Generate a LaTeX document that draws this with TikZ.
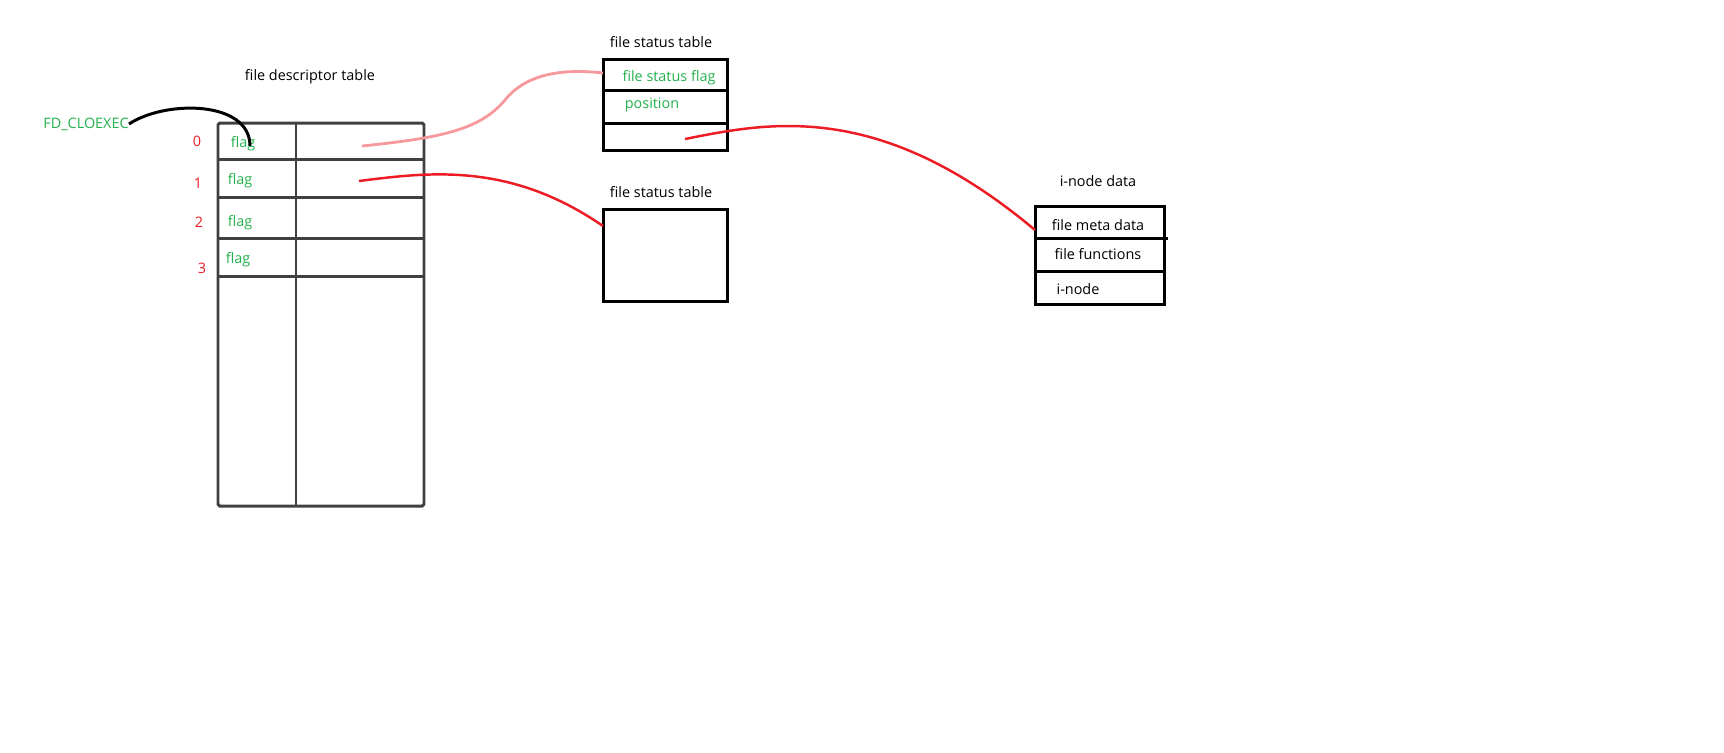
\documentclass[tikz,border=0pt]{standalone}
\usepackage{fontspec}
\setmainfont{Open Sans}
\definecolor{paintgreen}{RGB}{34,177,76}
\definecolor{paintred}{RGB}{237,28,36}
\begin{document}
\begin{tikzpicture}[x=0.02cm,y=-0.02cm,
  lbl/.style={font=\fontsize{8.2}{10}\selectfont, inner sep=0pt},
  grn/.style={lbl, text=paintgreen},
  idx/.style={lbl, text=paintred},
  sketch/.style={draw=black!75, line width=1.7pt},
  box/.style={draw=black, line width=1.7pt},
  link/.style={draw=paintred, line width=1.4pt}]
\useasboundingbox (0,0) rectangle (1724,752);
% file descriptor table
\node[lbl] (fdtitle) at (310,77) {file descriptor table};
\draw[sketch, rounded corners=1pt] (218,123) rectangle (424,506);
\draw[sketch] (296,123) -- (296,506);
\foreach \y in {159,197,238,276} \draw[sketch] (218,\y) -- (424,\y);
\foreach \i/\nx/\ny/\fx/\fy in {0/197/141/243/144, 1/198/183/240/181, 2/199/222/240/223, 3/202/268/238/260}{
  \node[idx] (idx\i) at (\nx,\ny) {\i};
  \node[grn] (flag\i) at (\fx,\fy) {flag};
}
\node[grn] (cloexec) at (86,124) {FD\_CLOEXEC};
\coordinate (flagtip) at (250,146);
\draw[black, line width=1.7pt] (cloexec.east) .. controls (165,100) and (250,100) .. (flagtip);
% file status tables
\node[lbl] (fsttitle) at (661,42) {file status table};
\draw[box] (603,59) rectangle (727,150);
\draw[box] (603,90) -- (727,90);
\draw[box] (603,123) -- (727,123);
\node[grn] (fsflag) at (669,78) {file status flag};
\node[grn] (fspos) at (652,105) {position};
\node[lbl] (fsbtitle) at (661,192) {file status table};
\draw[box] (603,209) rectangle (727,301);
% i-node data
\node[lbl] (inodetitle) at (1098,181) {i-node data};
\draw[box] (1035,206) rectangle (1164,304);
\draw[box] (1035,238) -- (1168,238);
\draw[box] (1035,271) -- (1164,271);
\node[lbl] (meta) at (1098,225) {file meta data};
\node[lbl] (funcs) at (1098,254) {file functions};
\node[lbl] (inode) at (1078,289) {i-node};
% links
\coordinate (fd0) at (362,146);
\coordinate (fd1) at (359,181);
\coordinate (fsa) at (603,73);
\coordinate (fsb) at (603,226);
\coordinate (fsptr) at (685,139);
\coordinate (inodein) at (1035,230);
\draw[link, draw=paintred!45, line width=1.6pt] (fd0) .. controls (440,138) and (480,130) .. (505,100) .. controls (525,75) and (560,68) .. (fsa);
\draw[link] (fd1) .. controls (430,172) and (510,162) .. (fsb);
\draw[link] (fsptr) .. controls (770,122) and (880,100) .. (inodein);
\end{tikzpicture}
\end{document}
